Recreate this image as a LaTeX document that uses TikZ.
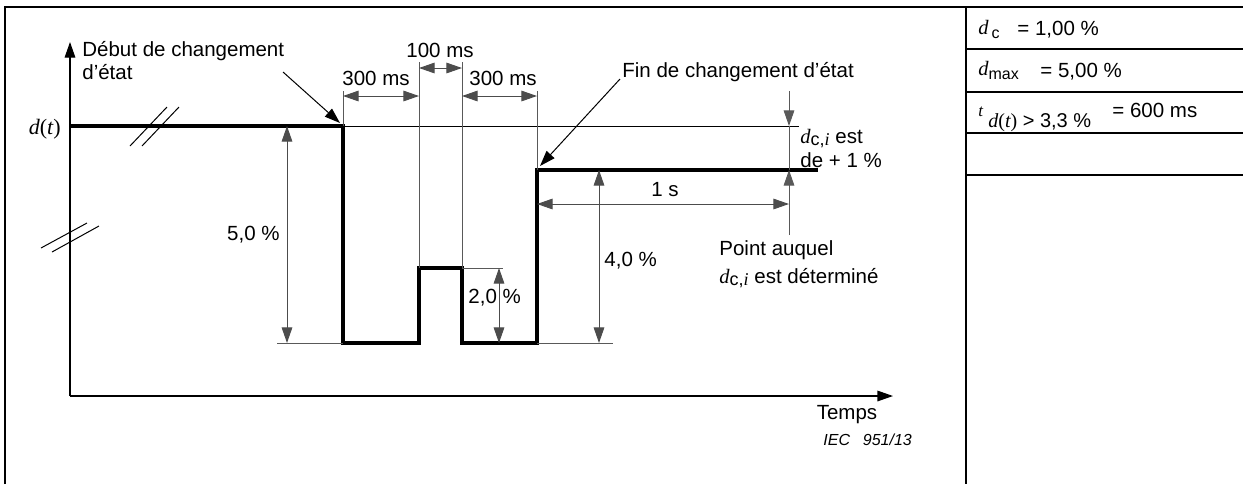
\documentclass[tikz,border=0pt]{standalone}
\usepackage{fontspec}
\setmainfont{Liberation Sans}
\newfontfamily\tnr{Liberation Serif}
\usetikzlibrary{arrows.meta}
\newcommand\vd{{\tnr\itshape d}}
\newcommand\vt{{\tnr\itshape t}}
\newcommand\vi{{\tnr\itshape i}}
\begin{document}
\begin{tikzpicture}[x=0.5pt,y=-0.5pt,
  font=\fontsize{10.25}{12}\selectfont,
  framel/.style={line width=1pt},
  wave/.style={line width=1.6pt, line join=miter},
  axis/.style={line width=0.6pt},
  thinl/.style={line width=0.5pt},
  extl/.style={line width=0.5pt, draw=black!65},
  tipa/.tip={Triangle[length=7.8pt,width=5.3pt]},
  dimd/.style={line width=0.5pt, draw=black!70, tipa-tipa},
  one/.style={line width=0.5pt, -tipa},
  lbl/.style={inner sep=0pt, anchor=base west},
  lblc/.style={inner sep=0pt, anchor=base},
]
\useasboundingbox (0,0) rectangle (1243,484);
% frame and right table
\draw[framel] (5,484) -- (5,7) -- (1243,7);
\draw[framel] (966,7) -- (966,484);
\foreach \yy in {49,92,133,175} \draw[framel] (966,\yy) -- (1243,\yy);
\node[lbl] (r1a) at (978,34) {\vd\hspace{1.5pt}\raisebox{-2pt}{\footnotesize c}};
\node[lbl] (r1b) at (1017,35) {= 1,00 \%};
\node[lbl] (r2a) at (978,75) {\vd\raisebox{-2pt}{\footnotesize max}};
\node[lbl] (r2b) at (1040,77) {= 5,00 \%};
\node[lbl] (r3a) at (978,116) {\fontsize{8.5}{10}\selectfont\vt};
\node[lbl] (r3b) at (988,127) {\fontsize{10}{12}\selectfont{\tnr\itshape d}{\tnr(}{\tnr\itshape t}{\tnr)} > 3,3 \%};
\node[lbl] (r3c) at (1112,117) {= 600 ms};

% axes
\coordinate (O) at (70,396);
\coordinate (ytop) at (70,42);
\coordinate (xend) at (893,396);
\draw[axis, -tipa] (O) -- (ytop);
\draw[axis, -tipa] (O) -- (xend);
% break marks
\draw[thinl] (130,146) -- (167,107);
\draw[thinl] (142,146) -- (179,107);
\draw[thinl] (41,248) -- (87,223);
\draw[thinl] (52,252) -- (99,226);

% waveform
\coordinate (w0) at (70,126);
\coordinate (w1) at (343,126);
\coordinate (w2) at (343,343);
\coordinate (w3) at (419,343);
\coordinate (w4) at (419,268);
\coordinate (w5) at (462,268);
\coordinate (w6) at (462,343);
\coordinate (w7) at (537,343);
\coordinate (w8) at (537,170);
\coordinate (w9) at (818,170);
\draw[wave] (w0) -- (w1) -- (w2) -- (w3) -- (w4) -- (w5) -- (w6) -- (w7) -- (w8) -- (w9);

% reference and extension lines
\draw[thinl] (w1) -- (799,126);
\draw[extl] (343,91) -- (w1);
\draw[extl] (419,62) -- (w4);
\draw[extl] (462,62) -- (w5);
\draw[extl] (537,91) -- (w8);
\draw[extl] (277,343) -- (w2);
\draw[extl] (w5) -- (503,268);
\draw[extl] (w7) -- (613,343);

% dimensions
\draw[dimd] (343,96) -- (419,96);
\draw[dimd] (419,68) -- (462,68);
\draw[dimd] (462,96) -- (537,96);
\draw[dimd] (537,204) -- (789,204);
\draw[dimd] (287,126) -- (287,343);
\draw[dimd] (499,268) -- (499,343);
\draw[dimd] (599,170) -- (599,343);
\draw[extl] (789,126) -- (789,170);
\draw[extl, -tipa] (789,91) -- (789,126);
\draw[extl, -tipa] (789,235) -- (789,170);

% callouts
\coordinate (c1s) at (283,72);
\coordinate (c2s) at (620,79);
\draw[one] (c1s) -- (340,123);
\draw[one] (c2s) -- (540,166);

% labels
\node[lbl] (deb1) at (82,56) {Début de changement};
\node[lbl] (deb2) at (82,79) {d’état};
\node[lblc] (t100) at (440,57) {100 ms};
\node[lblc] (t300a) at (376,85) {300 ms};
\node[lblc] (t300b) at (503,85) {300 ms};
\node[lbl] (fin) at (622,77) {Fin de changement d’état};
\node[inner sep=0pt, anchor=base east, font=\fontsize{11}{13}\selectfont] (dt) at (61,134) {\vd{\tnr(}\vt{\tnr)}};
\node[inner sep=0pt, anchor=base east] (p5) at (280,240) {5,0 \%};
\node[lbl] (p2) at (468,303) {2,0 \%};
\node[lbl] (p4) at (604,266) {4,0 \%};
\node[lblc] (s1) at (665,196) {1 s};
\node[lbl] (dci1) at (800,143) {\vd\raisebox{-1pt}{\small c,\vi} est};
\node[lbl] (dci2) at (800,167) {de + 1 \%};
\node[lbl] (pa1) at (719,255) {Point auquel};
\node[lbl] (pa2) at (719,283) {\vd\raisebox{-1pt}{\small c,\vi} est déterminé};
\node[lblc] (temps) at (847,419) {Temps};
\node[lbl, font=\fontsize{8}{10}\selectfont\itshape] (iec) at (823,445) {IEC\hspace{0.8em}951/13};
\end{tikzpicture}
\end{document}
